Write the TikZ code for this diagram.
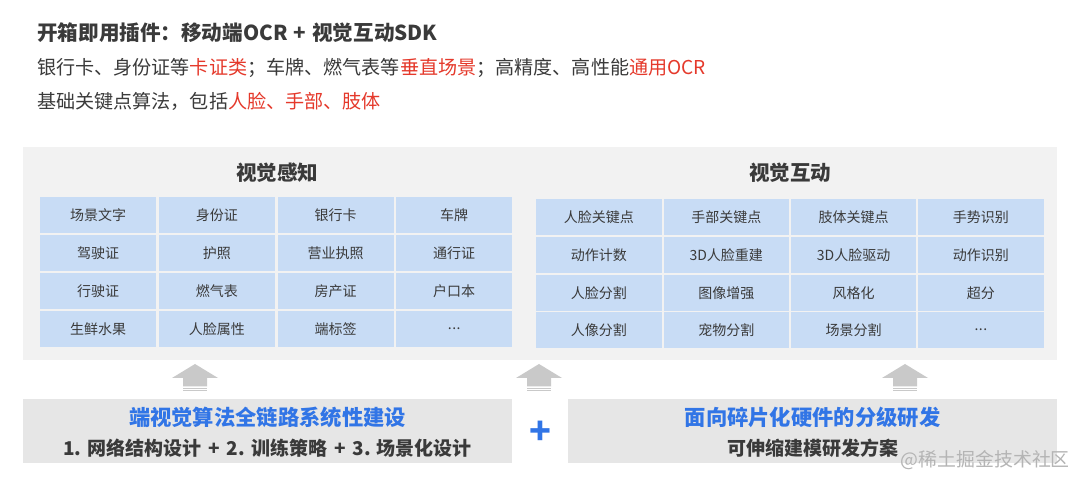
\documentclass[tikz,border=0pt]{standalone}
\usepackage{fontspec}
\setmainfont{Noto Sans CJK SC}
\definecolor{txt}{HTML}{3A3A3A}
\definecolor{hl}{HTML}{E5392B}
\definecolor{bl}{HTML}{3175E6}
\definecolor{cellblue}{HTML}{C8DCF5}
\definecolor{panelgray}{HTML}{F2F2F2}
\definecolor{boxgray}{HTML}{E6E6E6}
\definecolor{arrowgray}{HTML}{C9C9C9}
\definecolor{wm}{HTML}{B4B4B4}
\newcommand\mydots{.\kern0.5pt.\kern0.5pt.}
\newcommand\pluspad{\hspace{7pt}+\hspace{7pt}}
\tikzset{
  lcell/.style={fill=cellblue, minimum width=116pt, minimum height=36pt, inner sep=0pt, anchor=north west, text=txt, font=\fontsize{14}{16}\selectfont},
  rcell/.style={lcell, minimum width=125.5pt},
  hdr/.style={text=txt, font=\fontsize{20.5}{24}\selectfont\bfseries, inner sep=0pt},
  topline/.style={anchor=west, inner sep=0pt, text=txt},
  btitle/.style={text=bl, font=\fontsize{21.3}{24}\selectfont\bfseries, inner sep=0pt},
  bsub/.style={text=txt, font=\fontsize{19}{22}\selectfont\bfseries, inner sep=0pt},
  blockup/.pic={
    \fill[arrowgray] (-23,14) -- (0,0) -- (23,14) -- (12,14) -- (12,22.5) -- (-12,22.5) -- (-12,14) -- cycle;
    \fill[arrowgray] (-12,23.6) rectangle (12,24.8);
    \fill[arrowgray] (-12,25.9) rectangle (12,27.2);
  }
}
\begin{document}
\begin{tikzpicture}[x=1pt,y=-1pt]
\useasboundingbox (0,0) rectangle (1080,486);
\fill[white] (0,0) rectangle (1080,486);

% top texts
\node[topline, font=\fontsize{20.6}{24}\selectfont\bfseries] (title) at (37,33) {开箱即用插件：移动端OCR\hspace{6pt}+\hspace{6pt}视觉互动SDK};
\node[topline, font=\fontsize{19.1}{22}\selectfont] (line2) at (37,68) {银行卡、身份证等\textcolor{hl}{卡证类}；车牌、燃气表等\textcolor{hl}{垂直场景}；高精度、高性能\textcolor{hl}{通用OCR}};
\node[topline, font=\fontsize{19.1}{22}\selectfont] (line3) at (37,101) {基础关键点算法，包括\textcolor{hl}{人脸、手部、肢体}};

% panel
\node[fill=panelgray, minimum width=1034pt, minimum height=213pt, inner sep=0pt, anchor=north west] (panel) at (23,147) {};
\node[hdr] (hdrL) at (277,173) {视觉感知};
\node[hdr] (hdrR) at (790,173) {视觉互动};

% left grid
\foreach [count=\c] \t in {场景文字,身份证,银行卡,车牌}
  \node[lcell] (L1\c) at ({40+(\c-1)*118.67},197) {\t};
\foreach [count=\c] \t in {驾驶证,护照,营业执照,通行证}
  \node[lcell] (L2\c) at ({40+(\c-1)*118.67},235) {\t};
\foreach [count=\c] \t in {行驶证,燃气表,房产证,户口本}
  \node[lcell] (L3\c) at ({40+(\c-1)*118.67},273) {\t};
\foreach [count=\c] \t in {生鲜水果,人脸属性,端标签,\mydots}
  \node[lcell] (L4\c) at ({40+(\c-1)*118.67},311) {\t};

% right grid
\foreach [count=\c] \t in {人脸关键点,手部关键点,肢体关键点,手势识别}
  \node[rcell] (R1\c) at ({536+(\c-1)*127.33},199) {\t};
\foreach [count=\c] \t in {动作计数,3D人脸重建,3D人脸驱动,动作识别}
  \node[rcell] (R2\c) at ({536+(\c-1)*127.33},237) {\t};
\foreach [count=\c] \t in {人脸分割,图像增强,风格化,超分}
  \node[rcell] (R3\c) at ({536+(\c-1)*127.33},275) {\t};
\foreach [count=\c] \t in {人像分割,宠物分割,场景分割,\mydots}
  \node[rcell] (R4\c) at ({536+(\c-1)*127.33},312) {\t};

% arrows
\pic at (195,364) {blockup};
\pic at (539,364) {blockup};
\pic at (905,364) {blockup};

% bottom boxes
\node[fill=boxgray, minimum width=489pt, minimum height=64pt, inner sep=0pt, anchor=north west] (boxL) at (23,399) {};
\node[fill=boxgray, minimum width=489pt, minimum height=64pt, inner sep=0pt, anchor=north west] (boxR) at (568,399) {};
\node[btitle] (boxLt) at (267.5,417) {端视觉算法全链路系统性建设};
\node[bsub] (boxLs) at (267.5,448) {1. 网络结构设计\pluspad 2. 训练策略\pluspad 3. 场景化设计};
\node[btitle] (boxRt) at (812.5,417) {面向碎片化硬件的分级研发};
\node[bsub] (boxRs) at (812.5,448) {可伸缩建模研发方案};
\node[text=bl, font=\fontsize{36}{38}\selectfont\bfseries, inner sep=0pt] (plus) at (540,433) {+};

% watermark
\node[anchor=east, text=wm, font=\fontsize{18.9}{21}\selectfont, inner sep=0pt] (wmark) at (1070,460) {@稀土掘金技术社区};
\end{tikzpicture}
\end{document}
